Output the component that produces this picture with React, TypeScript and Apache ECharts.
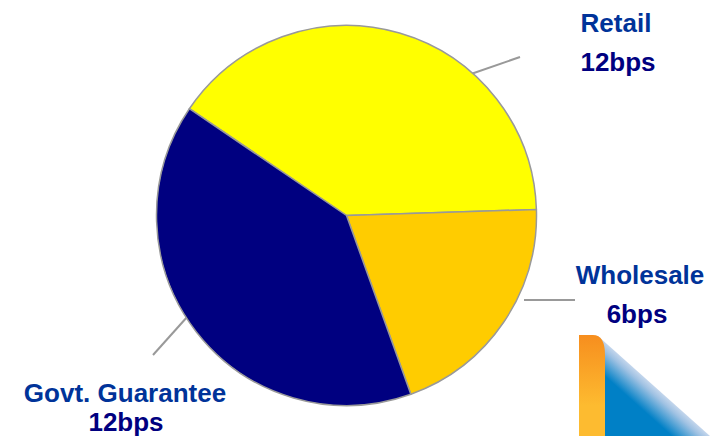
import React, { useEffect, useRef } from "react";
import * as echarts from "echarts";

const segments = ["Retail", "Wholesale", "Govt. Guarantee"];
const spreads = [12, 6, 12];
const spreadLabels = ["12bps", "6bps", "12bps"];
const segmentColors = ["#FFFF00", "#FFCC00", "#000080"];

const nameColor = "#003399";
const valueColor = "#000080";
const leaderColor = "#999999";
const fontFamily = '"Liberation Sans", Arial, sans-serif';

function caption(text: string, x: number, y: number, fill: string) {
  return {
    type: "text",
    x,
    y,
    style: { text, fill, font: `bold 26px ${fontFamily}`, textAlign: "center", textVerticalAlign: "middle" },
  };
}

function leader(x1: number, y1: number, x2: number, y2: number) {
  return {
    type: "line",
    shape: { x1, y1, x2, y2 },
    style: { stroke: leaderColor, lineWidth: 2 },
  };
}

export default function App() {
  const ref = useRef<HTMLDivElement>(null);

  useEffect(() => {
    document.body.style.margin = "0";
    echarts.graphic.registerShape(
      "cornerTab",
      echarts.graphic.extendPath("M0 0 L14 0 Q26 0 26 20 L26 101 L0 101 Z", {}) as any
    );
    const chart = echarts.init(ref.current!, undefined, { renderer: "svg" });
    chart.setOption({
      animation: false,
      backgroundColor: "#ffffff",
      series: [
        {
          type: "pie",
          center: [346.5, 215.5],
          radius: [0, 190],
          startAngle: 145.8,
          clockwise: true,
          silent: true,
          label: { show: false },
          labelLine: { show: false },
          itemStyle: { borderColor: "#999999", borderWidth: 1.5 },
          data: segments.map((name, i) => ({
            name,
            value: spreads[i],
            itemStyle: { color: segmentColors[i] },
          })),
        },
      ],
      graphic: [
        leader(471, 74, 520, 57),
        leader(524, 300, 575, 300),
        leader(188, 316, 153, 355),
        caption(segments[0], 616, 23, nameColor),
        caption(spreadLabels[0], 618, 62, valueColor),
        caption(segments[1], 640, 275, nameColor),
        caption(spreadLabels[1], 637, 314, valueColor),
        caption(segments[2], 125, 393, nameColor),
        caption(spreadLabels[2], 126, 422, valueColor),
        {
          type: "polygon",
          shape: { points: [[598, 336], [710, 436], [600, 436]] },
          style: {
            fill: new echarts.graphic.LinearGradient(0.5, 0.5, 0.33, 0.67, [
              { offset: 0, color: "#c4d6ec" },
              { offset: 0.25, color: "#a0c2e3" },
              { offset: 1, color: "#0080c6" },
            ]),
          },
        },
        {
          type: "cornerTab",
          x: 579,
          y: 335,
          style: {
            fill: new echarts.graphic.LinearGradient(0, 0, 0, 1, [
              { offset: 0, color: "#f78e1e" },
              { offset: 0.7, color: "#fdbb30" },
              { offset: 1, color: "#fdbb30" },
            ]),
          },
        },
      ],
    });
    return () => chart.dispose();
  }, []);

  return <div ref={ref} style={{ width: 724, height: 436 }} />;
}
